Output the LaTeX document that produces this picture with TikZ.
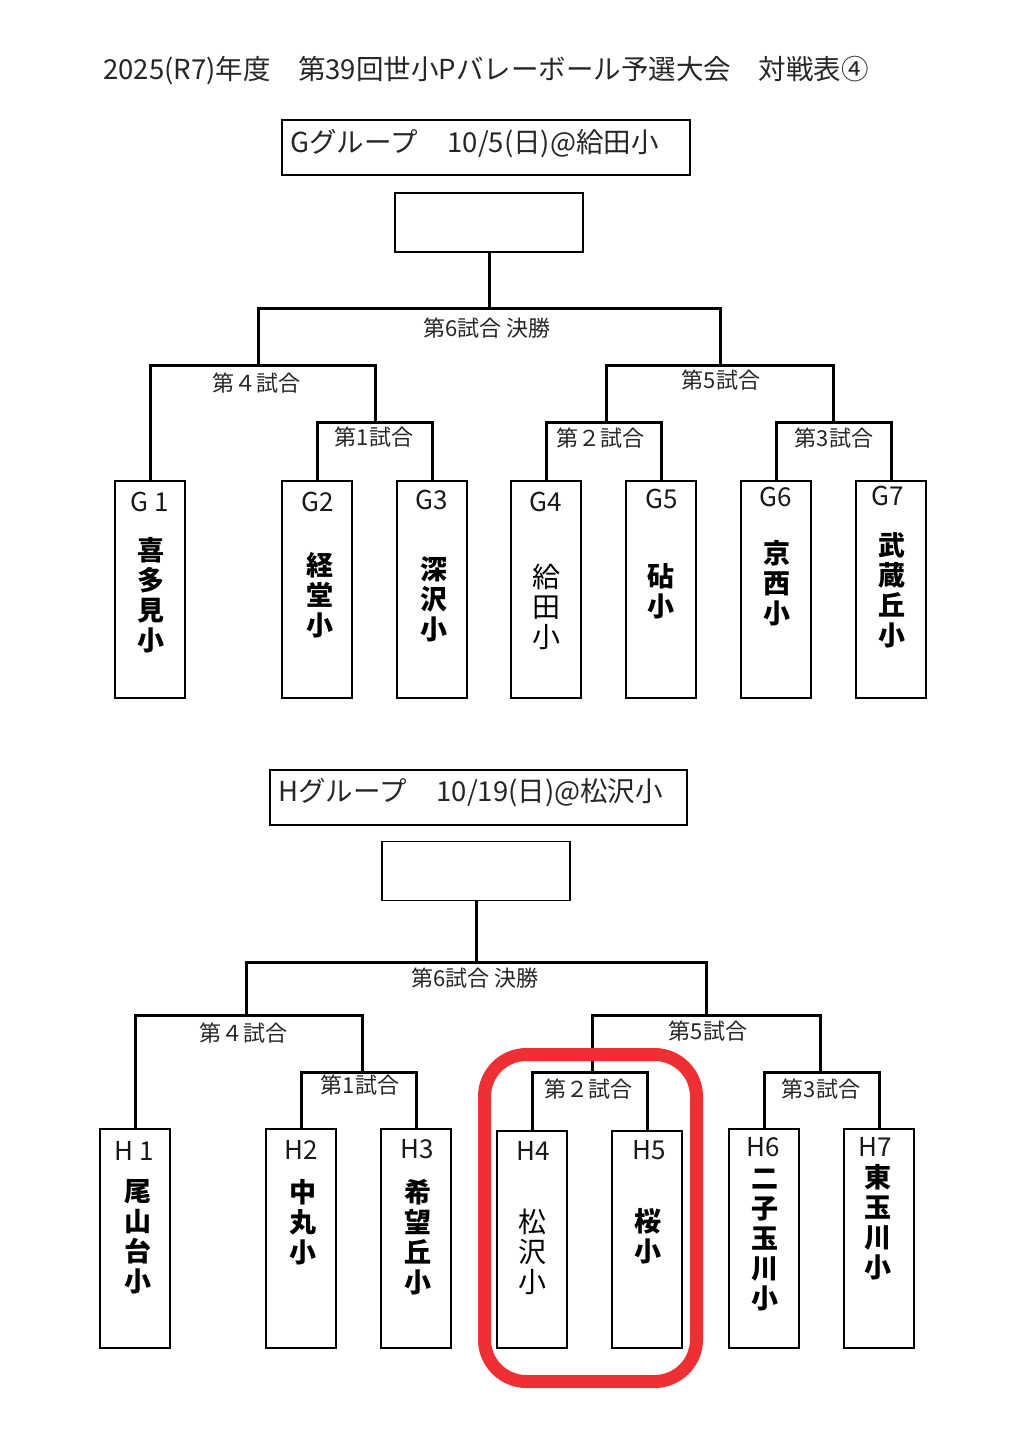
\documentclass[tikz,border=0pt]{standalone}
\usepackage{fontspec}
\setmainfont{Noto Sans CJK JP}
\begin{document}
\begin{tikzpicture}[x=1pt,y=-1pt,
  team/.style={draw, line width=1.6pt, minimum width=70pt, minimum height=217pt, anchor=north, inner sep=0pt},
  winbox/.style={draw, line width=1.6pt, minimum width=188pt, minimum height=59pt, inner sep=0pt},
  hdr/.style={draw, line width=1.3pt, minimum width=408pt, minimum height=55pt, inner sep=0pt},
  hdrtext/.style={anchor=west, inner sep=0pt, font=\fontsize{27.5}{27.5}\selectfont, text=black!85},
  titletext/.style={inner sep=0pt, font=\fontsize{27.5}{27.5}\selectfont, text=black!85},
  bracket/.style={line width=3pt},
  mlabel/.style={inner sep=0pt, font=\fontsize{22}{22}\selectfont, text=black!85},
  tlabel/.style={inner sep=0pt, font=\fontsize{26}{26}\selectfont, text=black!90},
  tname/.style={inner sep=0pt, align=center, font=\fontsize{27}{30}\selectfont\bfseries},
  tnamer/.style={inner sep=0pt, align=center, font=\fontsize{28}{30}\selectfont},
  redmark/.style={draw={rgb,255:red,238;green,48;blue,52}, line width=13pt, rounded corners=42pt}
]
\useasboundingbox (0,0) rectangle (1014,1452);
\fill[white] (0,0) rectangle (1014,1452);

% title
\node[titletext] (title) at (486,71) {2025(R7)年度　第39回世小Pバレーボール予選大会　対戦表④};

% ===== G group =====
\node[hdr] (ghdr) at (486,147.5) {};
\node[hdrtext] (ghdrt) at (290,144) {Gグループ\hspace{30pt}10/5(日)@給田小};
\node[winbox] (gw) at (489,222.5) {};

\coordinate (gm6) at (489,308);
\coordinate (gm4) at (258,365);
\coordinate (gm5) at (720,365);
\coordinate (gm1) at (375,422);
\coordinate (gm2) at (606,422);
\coordinate (gm3) at (833,422);

\node[team] (g1) at (150,480) {};
\node[team] (g2) at (317,480) {};
\node[team] (g3) at (432,480) {};
\node[team] (g4) at (546,480) {};
\node[team] (g5) at (661,480) {};
\node[team] (g6) at (776,480) {};
\node[team] (g7) at (891,480) {};

\draw[bracket] (gw.south) -- (gm6);
\draw[bracket] (gm4) |- (gm6) -| (gm5);
\draw[bracket] (g1.north) |- (gm4) -| (gm1);
\draw[bracket] (g2.north) |- (gm1) -| (g3.north);
\draw[bracket] (gm2) |- (gm5) -| (gm3);
\draw[bracket] (g4.north) |- (gm2) -| (g5.north);
\draw[bracket] (g6.north) |- (gm3) -| (g7.north);

\node[mlabel] (gl6) at (487,328) {第6試合 決勝};
\node[mlabel] (gl4) at (256,383) {第４試合};
\node[mlabel] (gl1) at (374,437) {第1試合};
\node[mlabel] (gl5) at (721,380) {第5試合};
\node[mlabel] (gl2) at (600,438) {第２試合};
\node[mlabel] (gl3) at (834,438) {第3試合};

\node[tlabel] (g1l) at (150,502) {G 1};
\node[tlabel] (g2l) at (318,502) {G2};
\node[tlabel] (g3l) at (432,500) {G3};
\node[tlabel] (g4l) at (546,502) {G4};
\node[tlabel] (g5l) at (662,499) {G5};
\node[tlabel] (g6l) at (776,497) {G6};
\node[tlabel] (g7l) at (888,496) {G7};

\node[tname] (g1n) at (151,595) {喜\\多\\見\\小};
\node[tname] (g2n) at (320,595) {経\\堂\\小};
\node[tname] (g3n) at (434,599) {深\\沢\\小};
\node[tnamer] (g4n) at (546,607) {給\\田\\小};
\node[tname] (g5n) at (661,591) {砧\\小};
\node[tname] (g6n) at (777,583) {京\\西\\小};
\node[tname] (g7n) at (892,590) {武\\蔵\\丘\\小};

% ===== H group =====
\node[hdr, minimum width=417pt] (hhdr) at (478.5,797.5) {};
\node[hdrtext] (hhdrt) at (278,793) {Hグループ\hspace{30pt}10/19(日)@松沢小};
\node[winbox] (hw) at (476,871) {};

\coordinate (hm6) at (476,962);
\coordinate (hm4) at (246,1015);
\coordinate (hm5) at (706,1015);
\coordinate (hm1) at (362,1072);
\coordinate (hm2) at (592,1072);
\coordinate (hm3) at (820,1072);

\node[team, minimum height=219pt] (h1) at (135,1128) {};
\node[team, minimum height=219pt] (h2) at (301,1128) {};
\node[team, minimum height=219pt] (h3) at (416,1128) {};
\node[team, minimum height=217pt] (h4) at (532,1130) {};
\node[team, minimum height=217pt] (h5) at (647,1130) {};
\node[team, minimum height=219pt] (h6) at (764,1128) {};
\node[team, minimum height=219pt] (h7) at (879,1128) {};

\draw[bracket] (hw.south) -- (hm6);
\draw[bracket] (hm4) |- (hm6) -| (hm5);
\draw[bracket] (h1.north) |- (hm4) -| (hm1);
\draw[bracket] (h2.north) |- (hm1) -| (h3.north);
\draw[bracket] (hm2) |- (hm5) -| (hm3);
\draw[bracket] (h4.north) |- (hm2) -| (h5.north);
\draw[bracket] (h6.north) |- (hm3) -| (h7.north);

\node[mlabel] (hl6) at (475,978) {第6試合 決勝};
\node[mlabel] (hl4) at (243,1033) {第４試合};
\node[mlabel] (hl1) at (360,1085) {第1試合};
\node[mlabel] (hl5) at (708,1031) {第5試合};
\node[mlabel] (hl2) at (588,1089) {第２試合};
\node[mlabel] (hl3) at (821,1089) {第3試合};

\node[tlabel] (h1l) at (134,1151) {H 1};
\node[tlabel] (h2l) at (301,1150) {H2};
\node[tlabel] (h3l) at (417,1149) {H3};
\node[tlabel] (h4l) at (533,1151) {H4};
\node[tlabel] (h5l) at (649,1150) {H5};
\node[tlabel] (h6l) at (763,1147) {H6};
\node[tlabel] (h7l) at (875,1147) {H7};

\node[tname] (h1n) at (138,1237) {尾\\山\\台\\小};
\node[tname] (h2n) at (303,1222) {中\\丸\\小};
\node[tname] (h3n) at (418,1237) {希\\望\\丘\\小};
\node[tnamer] (h4n) at (532,1252) {松\\沢\\小};
\node[tname] (h5n) at (648,1236) {桜\\小};
\node[tname] (h6n) at (765,1240) {二\\子\\玉\\川\\小};
\node[tname] (h7n) at (878,1222) {東\\玉\\川\\小};

% red highlight round H4/H5
\draw[redmark] (484.5,1054.5) rectangle (696.5,1381.5);
\end{tikzpicture}
\end{document}
